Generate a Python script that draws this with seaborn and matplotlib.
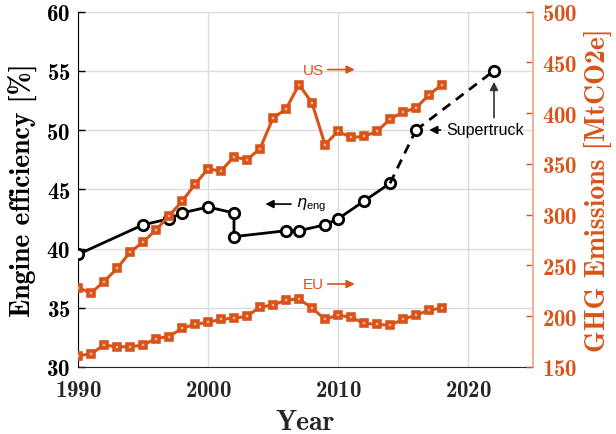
import matplotlib
matplotlib.use("Agg")
import matplotlib.pyplot as plt
import seaborn as sns
import pandas as pd

# ---------------- data ----------------
years = [1990, 1991, 1992, 1993, 1994, 1995, 1996, 1997, 1998, 1999,
         2000, 2001, 2002, 2003, 2004, 2005, 2006, 2007, 2008, 2009,
         2010, 2011, 2012, 2013, 2014, 2015, 2016, 2017, 2018]
us_ghg = [228, 223, 234, 247, 263, 273, 285, 299, 313, 330,
          345, 343, 357, 354, 365, 395, 404, 428, 410, 369,
          382, 376, 377, 382, 394, 401, 405, 418, 428]
eu_ghg = [161, 163, 171.5, 170, 170, 171.5, 178, 180, 188, 192,
          194, 197, 198, 200, 209, 211, 216, 217, 208, 197,
          201, 199, 193, 192, 191, 197, 201, 206, 208]

eng_years = [1990, 1995, 1997, 1998, 2000, 2002, 2002, 2006, 2007, 2009, 2010, 2012, 2014]
eng_eff = [39.5, 42.0, 42.5, 43.0, 43.5, 43.0, 41.0, 41.5, 41.5, 42.0, 42.5, 44.0, 45.5]
st_years = [2014, 2016, 2022]
st_eff = [45.5, 50.0, 55.0]

x_ticks = [1990, 2000, 2010, 2020]
left_ticks = [30, 35, 40, 45, 50, 55, 60]
right_ticks = [150, 200, 250, 300, 350, 400, 450, 500]

ORANGE = "#D95319"
ORANGE_LIGHT = "#EBA383"
GRAY = "#262626"

sns.set_style("white")
plt.rcParams["font.family"] = ["cmb10", "DejaVu Serif"]
plt.rcParams["axes.unicode_minus"] = False
plt.rcParams["axes.formatter.use_mathtext"] = True

fig = plt.figure(figsize=(6.16, 4.35), dpi=100)
ax = fig.add_axes([78 / 616, 1 - 368 / 435, (533 - 78) / 616, (368 - 12.5) / 435])
ax2 = ax.twinx()

ax.grid(True, color="#DCDCDC", lw=1.0)
ax.set_axisbelow(True)

eng_df = pd.DataFrame({"year": eng_years, "eff": eng_eff})
st_df = pd.DataFrame({"year": st_years, "eff": st_eff})
sns.lineplot(data=eng_df, x="year", y="eff", ax=ax, estimator=None, sort=False,
             color="black", lw=2, marker="o", markersize=7.5, markerfacecolor="white",
             markeredgecolor="black", markeredgewidth=2, zorder=3)
sns.lineplot(data=st_df.iloc[:2], x="year", y="eff", ax=ax, estimator=None, sort=False,
             color="black", lw=2, linestyle=(0, (3.5, 2.5)), zorder=3)
sns.lineplot(data=st_df.iloc[1:], x="year", y="eff", ax=ax, estimator=None, sort=False,
             color="black", lw=2, linestyle=(0, (3.5, 2.5)), marker="o", markersize=7.5,
             markerfacecolor="white", markeredgecolor="black", markeredgewidth=2, zorder=3)

ghg_df = pd.DataFrame({"year": years, "US": us_ghg, "EU": eu_ghg})
for col in ["US", "EU"]:
    sns.lineplot(data=ghg_df, x="year", y=col, ax=ax2, estimator=None, color=ORANGE, lw=2.2,
                 marker="s", markersize=5, markerfacecolor="#F1B69C",
                 markeredgecolor=ORANGE, markeredgewidth=2.6)

ax.set_xlim(1990, 2025)
ax.set_ylim(30, 60)
ax2.set_ylim(150, 500)
ax.set_xticks(x_ticks)
ax.set_yticks(left_ticks)
ax2.set_yticks(right_ticks)

ax.set_xlabel("Year", fontsize=20, color=GRAY)
ax.set_ylabel("Engine efficiency [%]", fontsize=20, color="black")
ax2.set_ylabel("GHG Emissions [MtCO2e]", fontsize=20, color=ORANGE)
ax.xaxis.set_label_coords((305 - 78) / 455, (368 - 423) / 355.5)
ax.yaxis.set_label_coords((22 - 78) / 455, 0.5)
ax2.yaxis.set_label_coords((598 - 78) / 455, 0.5)
ax.xaxis.label.set_va("center")
ax.yaxis.label.set_va("center")
ax2.yaxis.label.set_va("center")

ax.tick_params(axis="x", direction="in", length=5, width=1, colors=GRAY, labelsize=16.5, pad=9)
ax.tick_params(axis="y", direction="in", length=5, width=1, colors="black", labelsize=16.5, pad=5.5)
ax2.tick_params(axis="y", direction="in", length=5, width=1, colors=ORANGE, labelsize=16.5, pad=6.5)

for a in (ax, ax2):
    a.spines["top"].set_visible(False)
ax.spines["left"].set_color("black")
ax.spines["bottom"].set_color(GRAY)
ax.spines["right"].set_visible(False)
ax2.spines["left"].set_visible(False)
ax2.spines["bottom"].set_visible(False)
ax2.spines["right"].set_color(ORANGE_LIGHT)
ax2.spines["right"].set_linewidth(1.2)

sans = ["Liberation Sans", "DejaVu Sans"]
ax.annotate("", xy=(2011.5, 55.1), xytext=(2009.0, 55.1),
            arrowprops=dict(arrowstyle="-|>", color=ORANGE, lw=1.2, mutation_scale=12))
ax.text(2008.9, 55.1, "US", color=ORANGE, fontsize=11, family=sans, ha="right", va="center")
ax.annotate("", xy=(2011.5, 37.0), xytext=(2009.0, 37.0),
            arrowprops=dict(arrowstyle="-|>", color=ORANGE, lw=1.2, mutation_scale=12))
ax.text(2008.9, 37.0, "EU", color=ORANGE, fontsize=11, family=sans, ha="right", va="center")

ax.annotate("", xy=(2004.2, 43.75), xytext=(2006.6, 43.75),
            arrowprops=dict(arrowstyle="-|>", color="black", lw=1.2, mutation_scale=12))
ax.text(2006.8, 43.75, r"$\eta_\mathregular{eng}$", color="black", fontsize=11.5, family=sans,
        ha="left", va="center")

ax.annotate("", xy=(2016.8, 50.0), xytext=(2018.1, 50.0),
            arrowprops=dict(arrowstyle="-|>", color="black", lw=1.2, mutation_scale=12))
ax.text(2018.3, 50.0, "Supertruck", color="black", fontsize=11.5, family=sans,
        ha="left", va="center")
ax.annotate("", xy=(2022, 54.3), xytext=(2022, 50.8),
            arrowprops=dict(arrowstyle="-|>", color="#333333", lw=1.2, mutation_scale=12))

fig.savefig("out.png", dpi=100)
